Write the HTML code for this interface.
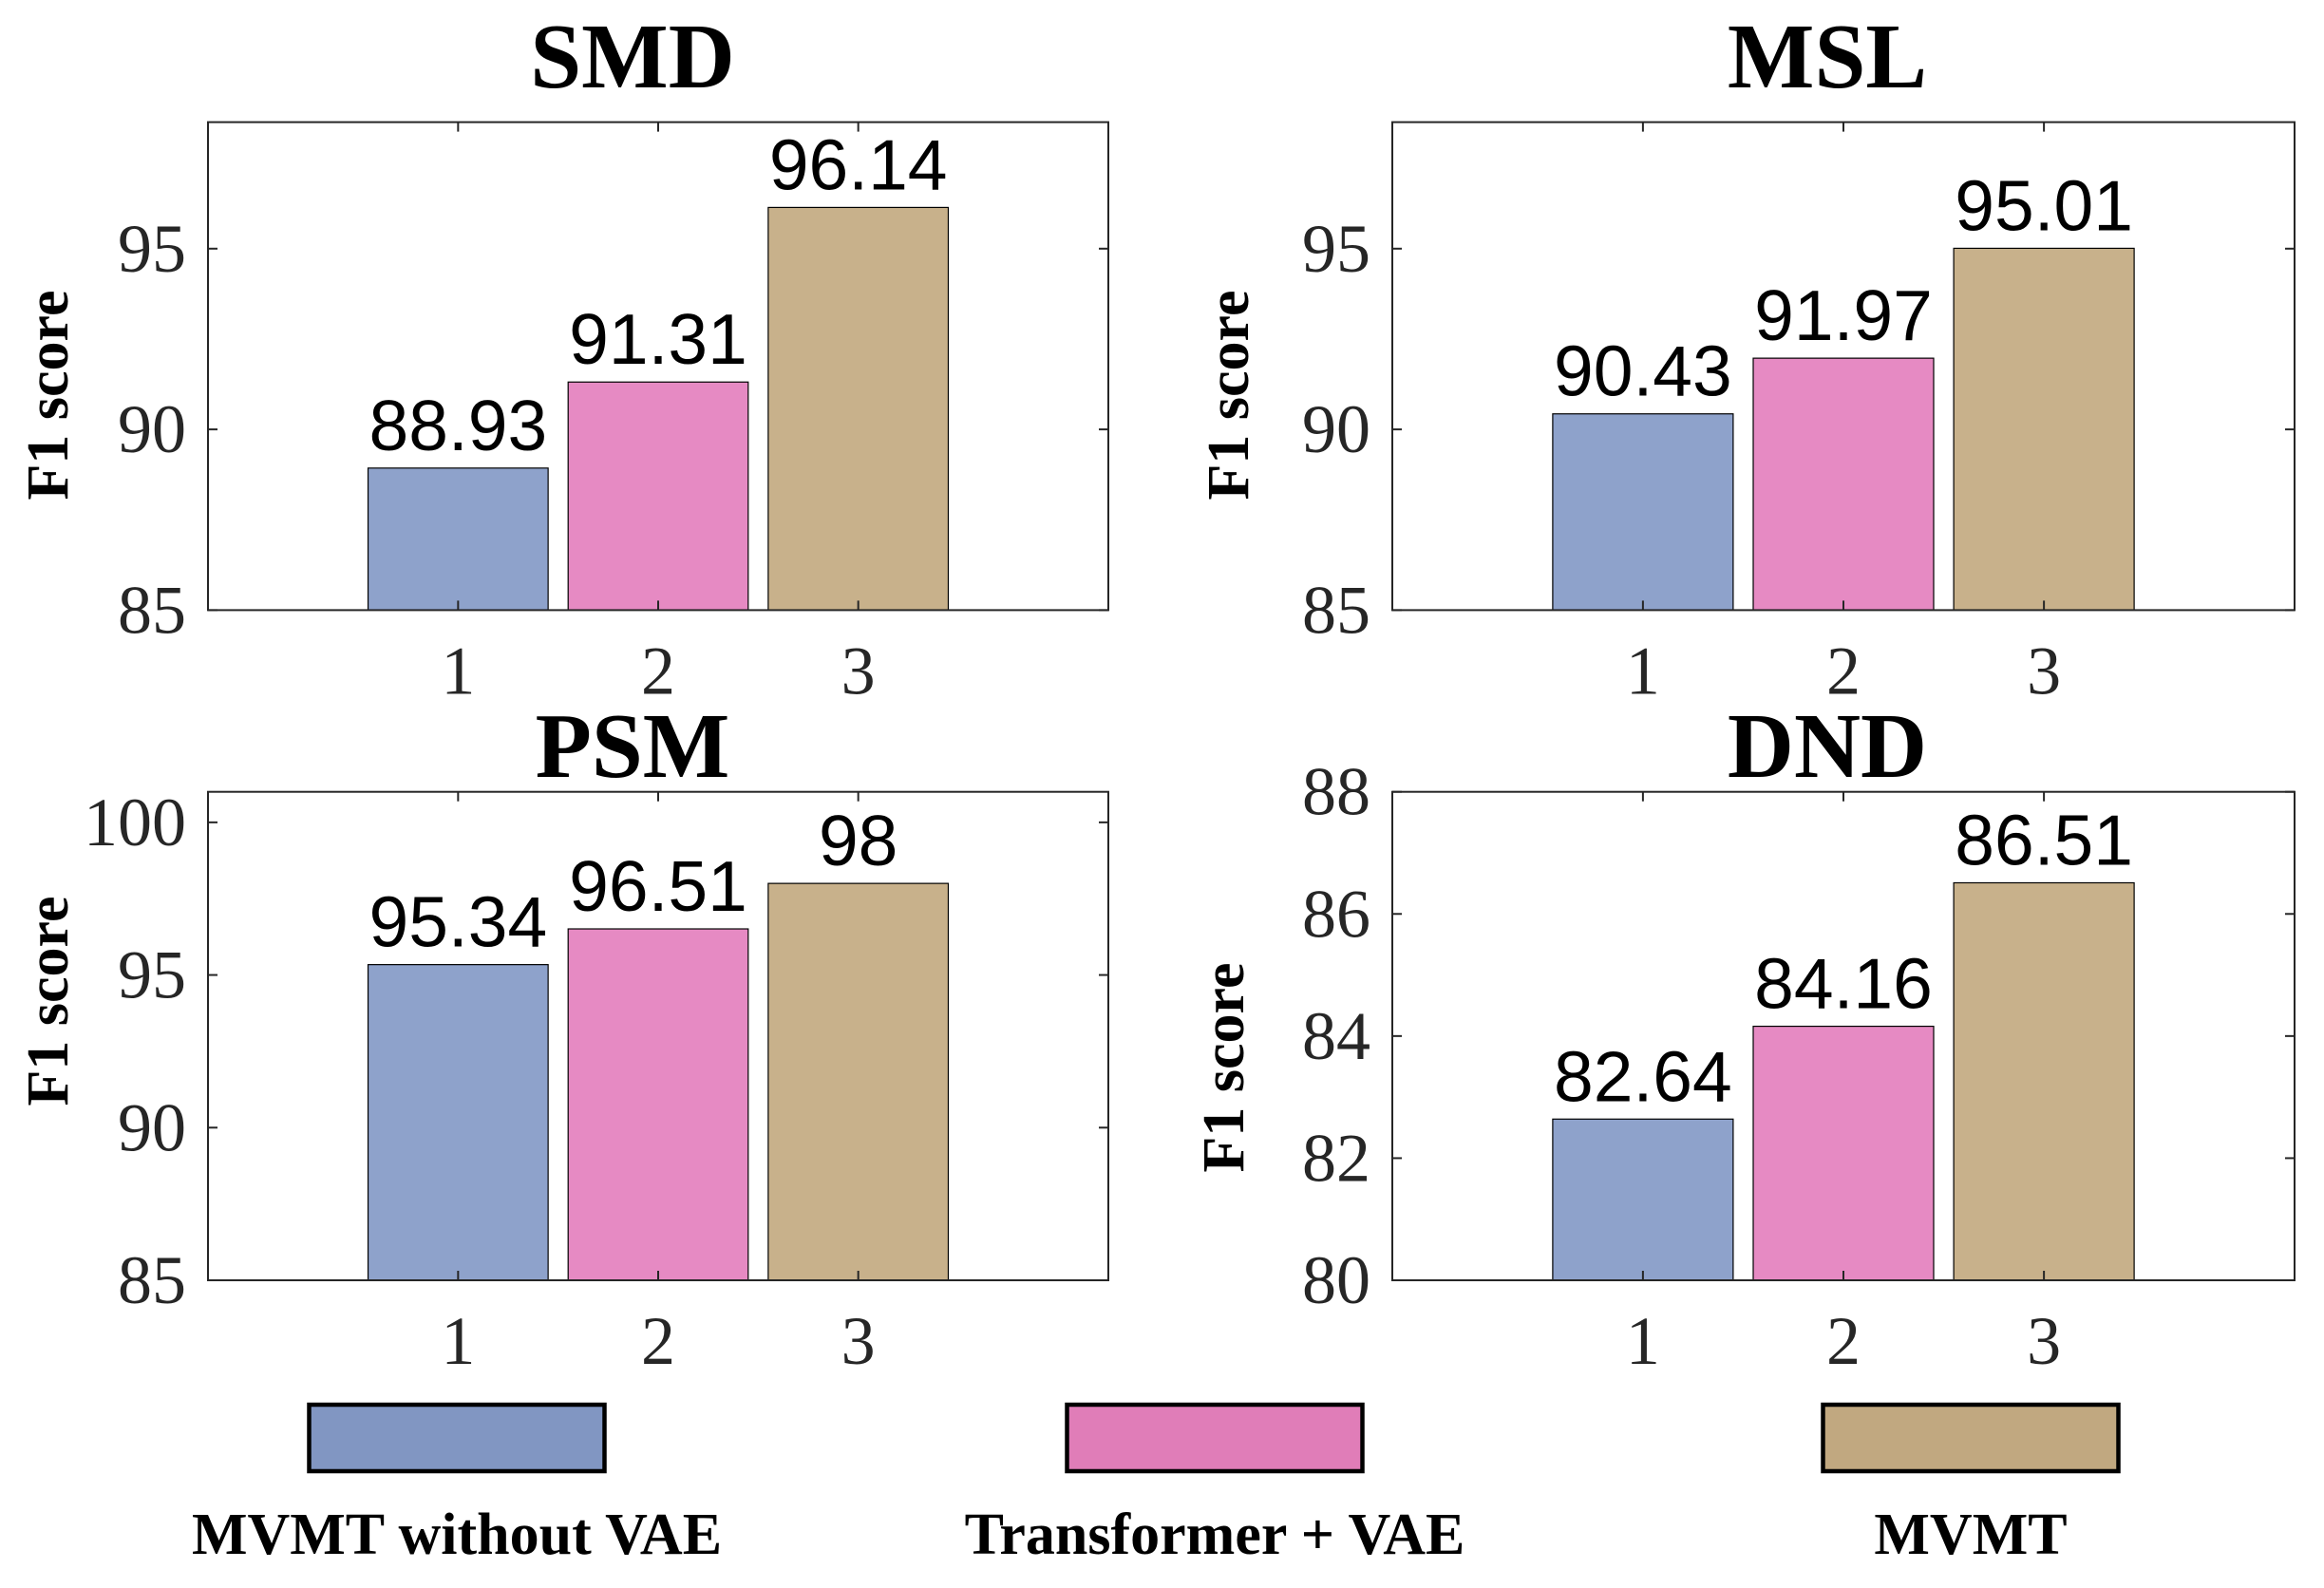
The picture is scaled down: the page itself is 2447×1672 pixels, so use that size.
<!DOCTYPE html>
<html><head><meta charset="utf-8">
<style>
html,body{margin:0;padding:0;background:#fff;}
svg{display:block;}
.tick{font-family:"Liberation Serif",serif;font-size:72px;fill:#262626;}
.val{font-family:"Liberation Sans",sans-serif;font-size:75px;fill:#000;}
.ttl{font-family:"Liberation Serif",serif;font-size:97px;font-weight:bold;fill:#000;}
.ylab{font-family:"Liberation Serif",serif;font-size:62px;font-weight:bold;fill:#000;}
.leg{font-family:"Liberation Serif",serif;font-size:62px;font-weight:bold;fill:#000;}
</style></head>
<body>
<svg id="fig" width="2447" height="1672" viewBox="0 0 2447 1672" xmlns="http://www.w3.org/2000/svg"></svg>
<script>
const panelNames = ["SMD", "MSL", "PSM", "DND"];
const smdValues = [88.93, 91.31, 96.14];
const mslValues = [90.43, 91.97, 95.01];
const psmValues = [95.34, 96.51, 98];
const dndValues = [82.64, 84.16, 86.51];
const smdTicks = [85, 90, 95];
const mslTicks = [85, 90, 95];
const psmTicks = [85, 90, 95, 100];
const dndTicks = [80, 82, 84, 86, 88];
const smdYlim = [85, 98.5];
const mslYlim = [85, 98.5];
const psmYlim = [85, 101];
const dndYlim = [80, 88];
const categories = [1, 2, 3];
const seriesNames = ["MVMT without VAE", "Transformer + VAE", "MVMT"];

const barColors = ["#8EA2CB", "#E68AC3", "#C8B18B"];
const legColors = ["#8196C2", "#E07DB8", "#C1A880"];
const NS = "http://www.w3.org/2000/svg";
const svg = document.getElementById("fig");
function mk(tag, attrs, parent) {
  const e = document.createElementNS(NS, tag);
  for (const k in attrs) e.setAttribute(k, attrs[k]);
  (parent || svg).appendChild(e);
  return e;
}
const layouts = [
  {L:219,R:1167,T:128.6,B:642.4,titleX:666,titleY:92,ylx:71,yly:416},
  {L:1466,R:2416,T:128.6,B:642.4,titleX:1924,titleY:92,ylx:1314,yly:416},
  {L:219,R:1167,T:833.7,B:1348,titleX:666,titleY:818,ylx:71,yly:1054},
  {L:1466,R:2416,T:833.7,B:1348,titleX:1924,titleY:818,ylx:1309,yly:1124}
];
const allValues = [smdValues, mslValues, psmValues, dndValues];
const allTicks = [smdTicks, mslTicks, psmTicks, dndTicks];
const allYlim = [smdYlim, mslYlim, psmYlim, dndYlim];
const xlim = [-0.25, 4.25];

for (let p = 0; p < 4; p++) {
  const lay = layouts[p];
  const g = mk("g", {});
  
  
  const ylim = allYlim[p];
  const xs = v => lay.L + (v - xlim[0]) / (xlim[1] - xlim[0]) * (lay.R - lay.L);
  const ys = v => lay.B - (v - ylim[0]) / (ylim[1] - ylim[0]) * (lay.B - lay.T);
  const step = xs(2) - xs(1);
  const bw = step * 0.9;
  allValues[p].forEach((v, i) => {
    const cx = xs(categories[i]);
    const r = mk("rect", {x: cx - bw/2, y: ys(v), width: bw, height: lay.B - ys(v), fill: barColors[i], stroke: "#000", "stroke-width": 1.2}, g);
    
    
    const t = mk("text", {x: cx, y: ys(v) - 19, "text-anchor": "middle", class: "val"}, g);
    
    
    t.textContent = String(v);
  });
  const box = mk("rect", {x: lay.L, y: lay.T, width: lay.R - lay.L, height: lay.B - lay.T, fill: "none", stroke: "#262626", "stroke-width": 2}, g);
  
  
  categories.forEach(c => {
    const x = xs(c);
    mk("line", {x1: x, x2: x, y1: lay.B, y2: lay.B - 10, stroke: "#262626", "stroke-width": 2}, g);
    mk("line", {x1: x, x2: x, y1: lay.T, y2: lay.T + 10, stroke: "#262626", "stroke-width": 2}, g);
    const t = mk("text", {x: x, y: lay.B + 88, "text-anchor": "middle", class: "tick"}, g);
    
    
    t.textContent = String(c);
  });
  allTicks[p].forEach(v => {
    const y = ys(v);
    mk("line", {x1: lay.L, x2: lay.L + 10, y1: y, y2: y, stroke: "#262626", "stroke-width": 2}, g);
    mk("line", {x1: lay.R, x2: lay.R - 10, y1: y, y2: y, stroke: "#262626", "stroke-width": 2}, g);
    const t = mk("text", {x: lay.L - 23, y: y + 24, "text-anchor": "end", class: "tick"}, g);
    
    
    t.textContent = String(v);
  });
  const tt = mk("text", {x: lay.titleX, y: lay.titleY, "text-anchor": "middle", class: "ttl"}, g);
  
  
  tt.textContent = panelNames[p];
  const yl = mk("text", {transform: "translate(" + lay.ylx + "," + lay.yly + ") rotate(-90)", "text-anchor": "middle", class: "ylab"}, g);
  
  
  yl.textContent = "F1 score";
}
const legCenters = [481, 1279, 2075];
seriesNames.forEach((n, i) => {
  const g = mk("g", {});
  
  
  mk("rect", {x: legCenters[i] - 155.5, y: 1479, width: 311, height: 70, fill: legColors[i], stroke: "#000", "stroke-width": 4.5}, g);
  const t = mk("text", {x: legCenters[i], y: 1636, "text-anchor": "middle", class: "leg"}, g);
  
  
  t.textContent = n;
});
</script>
</body></html>
